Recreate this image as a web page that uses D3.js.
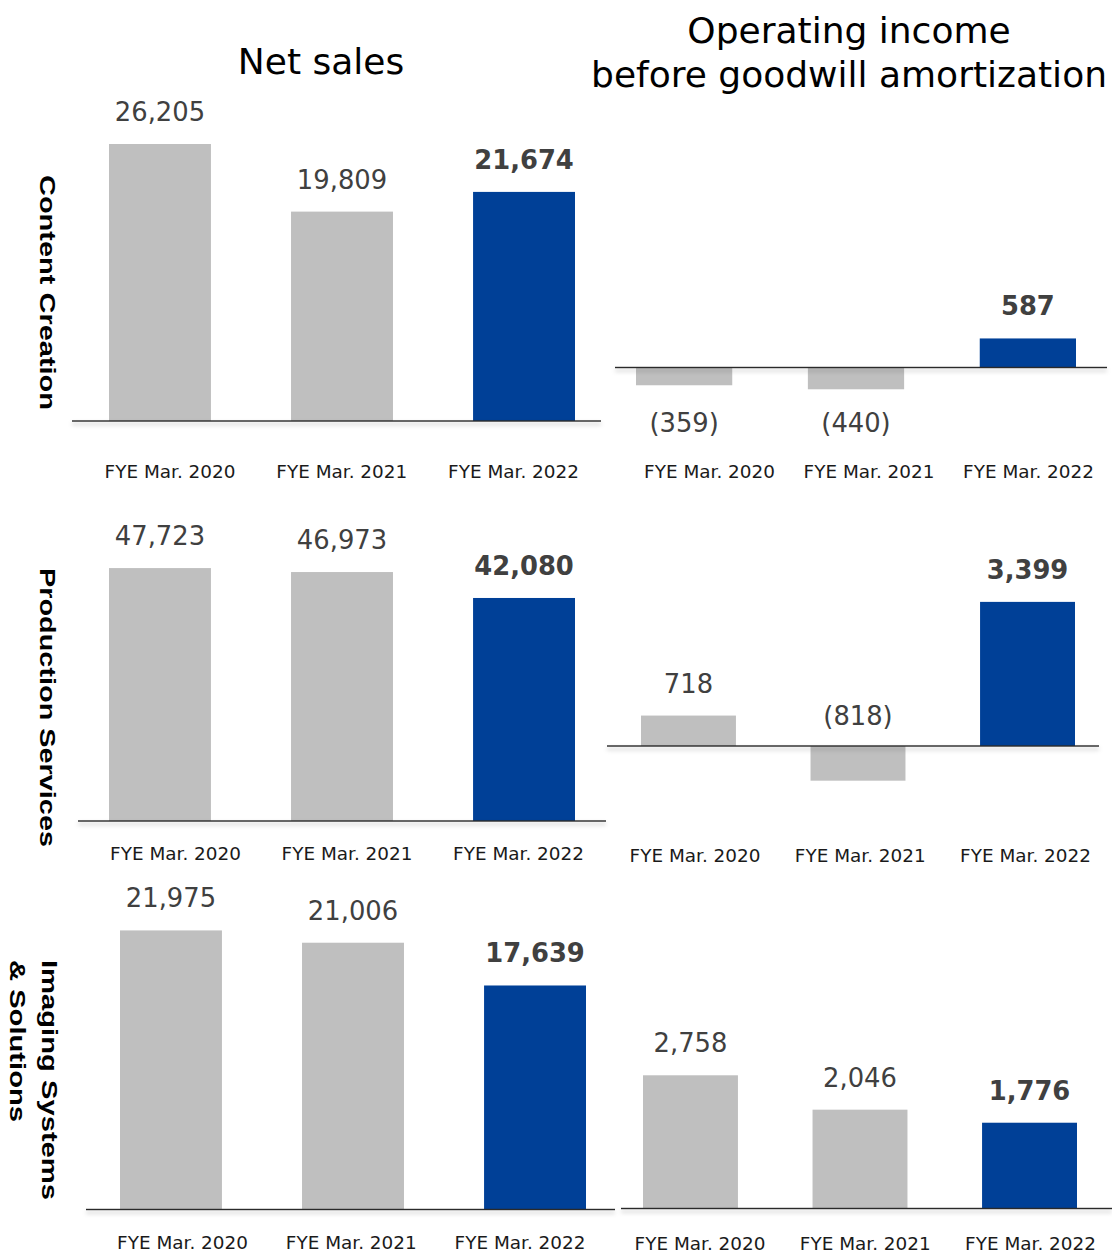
<!DOCTYPE html>
<html>
<head>
<meta charset="utf-8">
<script src="https://cdn.jsdelivr.net/npm/d3@7"></script>
<style>
  html, body { margin: 0; padding: 0; background: #fff; }
  svg { display: block; }
</style>
</head>
<body>
<svg id="chart" width="1112" height="1254"></svg>
<script>
// Fiscal years shown in every panel
const categories = ["FYE Mar. 2020", "FYE Mar. 2021", "FYE Mar. 2022"];

// Segment results (millions of yen)
const contentSales      = [26205, 19809, 21674];
const contentIncome     = [-359, -440, 587];
const productionSales   = [47723, 46973, 42080];
const productionIncome  = [718, -818, 3399];
const imagingSales      = [21975, 21006, 17639];
const imagingIncome     = [2758, 2046, 1776];

// Row and column headings
const segmentNames = [["Content Creation"], ["Production Services"], ["Imaging Systems", "& Solutions"]];
const salesTitle  = ["Net sales"];
const incomeTitle = ["Operating income", "before goodwill amortization"];

const GREY = "#bfbfbf", BLUE = "#004097";
const fmtNum = d3.format(",");
const fmt = v => v < 0 ? `(${fmtNum(-v)})` : fmtNum(v);

// Panel layout: bar band, zero line, pixels per 1,000 units, axis line and tick label row
const panels = [
  { values: contentSales,     bars: [109, 575], zero: 421,    k: 10.57, line: [72, 601],   ticks: [169.5, 513],  tickY: 478 },
  { values: contentIncome,    bars: [636, 1076], zero: 367.5, k: 49.5,  line: [615, 1107], ticks: [709, 1028],   tickY: 478, negY: 431.5 },
  { values: productionSales,  bars: [109, 575], zero: 821,    k: 5.3,   line: [78, 606],   ticks: [175, 518],    tickY: 860 },
  { values: productionIncome, bars: [641, 1075], zero: 746,   k: 42.4,  line: [607, 1099], ticks: [694.5, 1025], tickY: 862, negY: 725 },
  { values: imagingSales,     bars: [120, 586], zero: 1209.5, k: 12.7,  line: [86, 615],   ticks: [182, 519.5],  tickY: 1249 },
  { values: imagingIncome,    bars: [643, 1077], zero: 1208.5, k: 48.3, line: [621, 1112], ticks: [699.5, 1030], tickY: 1250 }
];

const svg = d3.select("#chart");
svg.append("rect").attr("width", 1112).attr("height", 1254).attr("fill", "#fff");

const defs = svg.append("defs");
const f = defs.append("filter").attr("id", "lineShadow")
  .attr("filterUnits", "userSpaceOnUse")
  .attr("x", 0).attr("y", 0).attr("width", 1112).attr("height", 1254);
f.append("feDropShadow").attr("dx", 0).attr("dy", 3).attr("stdDeviation", 2)
  .attr("flood-color", "#000").attr("flood-opacity", 0.28);

panels.forEach(p => {
  const g = svg.append("g");
  const x = d3.scaleBand().domain(categories).range(p.bars).paddingInner(0.44).paddingOuter(0);
  const y = d3.scaleLinear().domain([0, 1000]).range([p.zero, p.zero - p.k]);
  const data = categories.map((c, i) => ({ c, v: p.values[i], hi: i === categories.length - 1 }));

  g.selectAll("rect.bar").data(data).join("rect")
    .attr("class", "bar")
    .attr("x", d => x(d.c))
    .attr("width", x.bandwidth())
    .attr("y", d => Math.min(y(d.v), y(0)))
    .attr("height", d => Math.abs(y(d.v) - y(0)))
    .attr("fill", d => d.hi ? BLUE : GREY);

  // zero line with a soft shadow underneath
  g.append("rect")
    .attr("x", p.line[0]).attr("width", p.line[1] - p.line[0])
    .attr("y", y(0) - 0.7).attr("height", 1.4)
    .attr("fill", "#2b2b2b")
    .attr("filter", "url(#lineShadow)");

  g.selectAll("text.val").data(data).join("text")
    .attr("class", "val")
    .attr("x", d => x(d.c) + x.bandwidth() / 2)
    .attr("y", d => d.v >= 0 ? y(d.v) - 23 : p.negY)
    .attr("text-anchor", "middle")
    .attr("font-family", "'DejaVu Sans', Verdana, sans-serif")
    .attr("font-size", 25.8)
    .attr("font-weight", d => d.hi ? "bold" : "normal")
    .attr("fill", "#404040")
    .text(d => fmt(d.v));

  const tx = d3.scalePoint().domain(categories).range(p.ticks);
  const ax = g.append("g")
    .attr("transform", `translate(0,${p.tickY})`)
    .call(d3.axisBottom(tx).tickSize(0).tickPadding(0));
  ax.select(".domain").remove();
  ax.selectAll("text")
    .attr("y", 0).attr("dy", null)
    .attr("font-family", "'DejaVu Sans', Verdana, sans-serif")
    .attr("font-size", 18.4)
    .attr("fill", "#1a1a1a");
});

// Column titles
const titleFont = "'DejaVu Sans', Verdana, sans-serif";
svg.append("text").attr("x", 321).attr("y", 74)
  .attr("text-anchor", "middle").attr("font-family", titleFont).attr("font-size", 36)
  .attr("fill", "#000").text(salesTitle[0]);
svg.append("text").attr("text-anchor", "middle").attr("font-family", titleFont)
  .attr("font-size", 36).attr("fill", "#000")
  .selectAll("tspan").data(incomeTitle).join("tspan")
  .attr("x", 849).attr("y", (d, i) => 43 + i * 44).text(d => d);

// Segment names, rotated to read top to bottom
const rowLabels = [
  { lines: segmentNames[0], x: [40], top: 175, len: [235] },
  { lines: segmentNames[1], x: [40], top: 568, len: [279] },
  { lines: segmentNames[2], x: [42, 10], top: 960, len: [240, 162] }
];
rowLabels.forEach(r => {
  r.lines.forEach((line, i) => {
    svg.append("text")
      .attr("transform", `translate(${r.x[i]},${r.top}) rotate(90)`)
      .attr("font-family", "'Liberation Sans', Arial, sans-serif")
      .attr("font-weight", "bold")
      .attr("font-size", 22)
      .attr("fill", "#000")
      .attr("textLength", r.len[i])
      .attr("lengthAdjust", "spacingAndGlyphs")
      .text(line);
  });
});
</script>
</body>
</html>
